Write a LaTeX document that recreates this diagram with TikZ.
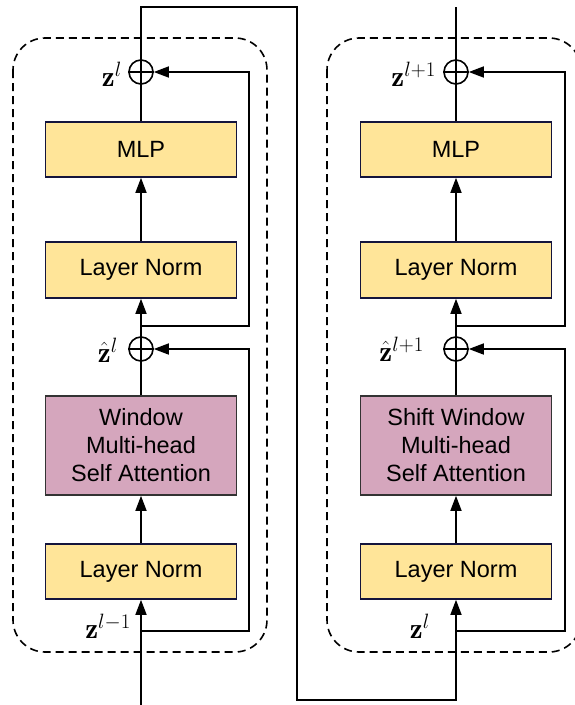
\documentclass[tikz,border=0pt]{standalone}
\usepackage{fontspec}
\newfontfamily\boxfont{Liberation Sans}
\usetikzlibrary{arrows.meta}
\definecolor{ylw}{HTML}{FFE599}
\definecolor{ylwline}{HTML}{14143C}
\definecolor{pnk}{HTML}{D5A6BD}
\definecolor{pnkline}{HTML}{333333}
\begin{document}
\begin{tikzpicture}[x=1pt,y=-1pt,
  wire/.style={line width=1.6pt},
  arr/.style={wire,-{Triangle[length=15pt,width=11pt]}},
  ybox/.style={draw=ylwline,fill=ylw,line width=1.6pt,minimum width=191pt,align=center,
     font=\boxfont\fontsize{23.5}{28}\selectfont,inner sep=0pt},
  pbox/.style={draw=pnkline,fill=pnk,line width=1.6pt,minimum width=191pt,minimum height=99pt,align=center,
     font=\boxfont\fontsize{23.5}{28}\selectfont,inner sep=0pt},
  addc/.style={draw,circle,line width=1.6pt,minimum size=24pt,inner sep=0pt},
  lbl/.style={inner sep=0pt,anchor=base east,font=\fontsize{29}{31}\selectfont},
  dbox/.style={draw,dashed,dash pattern=on 8pt off 5pt,line width=1.6pt,rounded corners=32pt}]
\useasboundingbox (0,0) rectangle (574,705);
% dashed blocks
\draw[dbox] (13,38) rectangle (267,652);
\draw[dbox] (327,38) rectangle (581,652);
% left column
\node[ybox,minimum height=55pt] (mlpL) at (141,149.5) {MLP};
\node[ybox,minimum height=56pt] (lntL) at (141,270) {Layer Norm};
\node[pbox] (attL) at (141,445.5) {Window\\Multi-head\\Self Attention};
\node[ybox,minimum height=55pt] (lnbL) at (141,571.5) {Layer Norm};
\node[addc] (addTL) at (141,72) {};
\node[addc] (addBL) at (141,349) {};
% right column
\node[ybox,minimum height=55pt] (mlpR) at (456,149.5) {MLP};
\node[ybox,minimum height=56pt] (lntR) at (456,270) {Layer Norm};
\node[pbox] (attR) at (456,445.5) {Shift Window\\Multi-head\\Self Attention};
\node[ybox,minimum height=55pt] (lnbR) at (456,571.5) {Layer Norm};
\node[addc] (addTR) at (456,72) {};
\node[addc] (addBR) at (456,349) {};
% plus signs
\foreach \c in {addTL,addBL,addTR,addBR}{
  \draw[wire] (\c.north) -- (\c.south);
  \draw[wire] (\c.west) -- (\c.east);
}
% labels
\node[lbl] (lzl) at (122,86) {$\mathbf{z}^l$};
\node[lbl] (lzhl) at (118,362) {$\hat{\mathbf{z}}^l$};
\node[lbl] (lzlm) at (131,638) {$\mathbf{z}^{l-1}$};
\node[lbl] (lzlp) at (436,86) {$\mathbf{z}^{l+1}$};
\node[lbl] (lzhlp) at (424,361) {$\hat{\mathbf{z}}^{l+1}$};
\node[lbl] (lzr) at (430,638) {$\mathbf{z}^l$};
% coordinates
\coordinate (inL) at (141,705);
\coordinate (brL1) at (141,631);
\coordinate (cL1) at (249,631);
\coordinate (brL2) at (141,326);
\coordinate (cL2) at (249,326);
\coordinate (x1) at (141,7);
\coordinate (x2) at (297,7);
\coordinate (x3) at (297,700);
\coordinate (x4) at (456,700);
\coordinate (brR1) at (456,631);
\coordinate (cR1) at (565,631);
\coordinate (brR2) at (456,326);
\coordinate (cR2) at (565,326);
\coordinate (outR) at (456,7);
% left flow
\draw[arr] (inL) -- (lnbL.south);
\draw[arr] (lnbL.north) -- (attL.south);
\draw[wire] (attL.north) -- (addBL.south);
\draw[arr] (addBL.north) -- (lntL.south);
\draw[arr] (lntL.north) -- (mlpL.south);
\draw[wire] (mlpL.north) -- (addTL.south);
\draw[arr] (brL1) -- (cL1) |- (addBL.east);
\draw[arr] (brL2) -- (cL2) |- (addTL.east);
% crossing
\draw[arr] (addTL.north) -- (x1) -- (x2) -- (x3) -- (x4) -- (lnbR.south);
% right flow
\draw[arr] (lnbR.north) -- (attR.south);
\draw[wire] (attR.north) -- (addBR.south);
\draw[arr] (addBR.north) -- (lntR.south);
\draw[arr] (lntR.north) -- (mlpR.south);
\draw[wire] (mlpR.north) -- (addTR.south);
\draw[arr] (brR1) -- (cR1) |- (addBR.east);
\draw[arr] (brR2) -- (cR2) |- (addTR.east);
\draw[wire] (addTR.north) -- (outR);
\end{tikzpicture}
\end{document}
